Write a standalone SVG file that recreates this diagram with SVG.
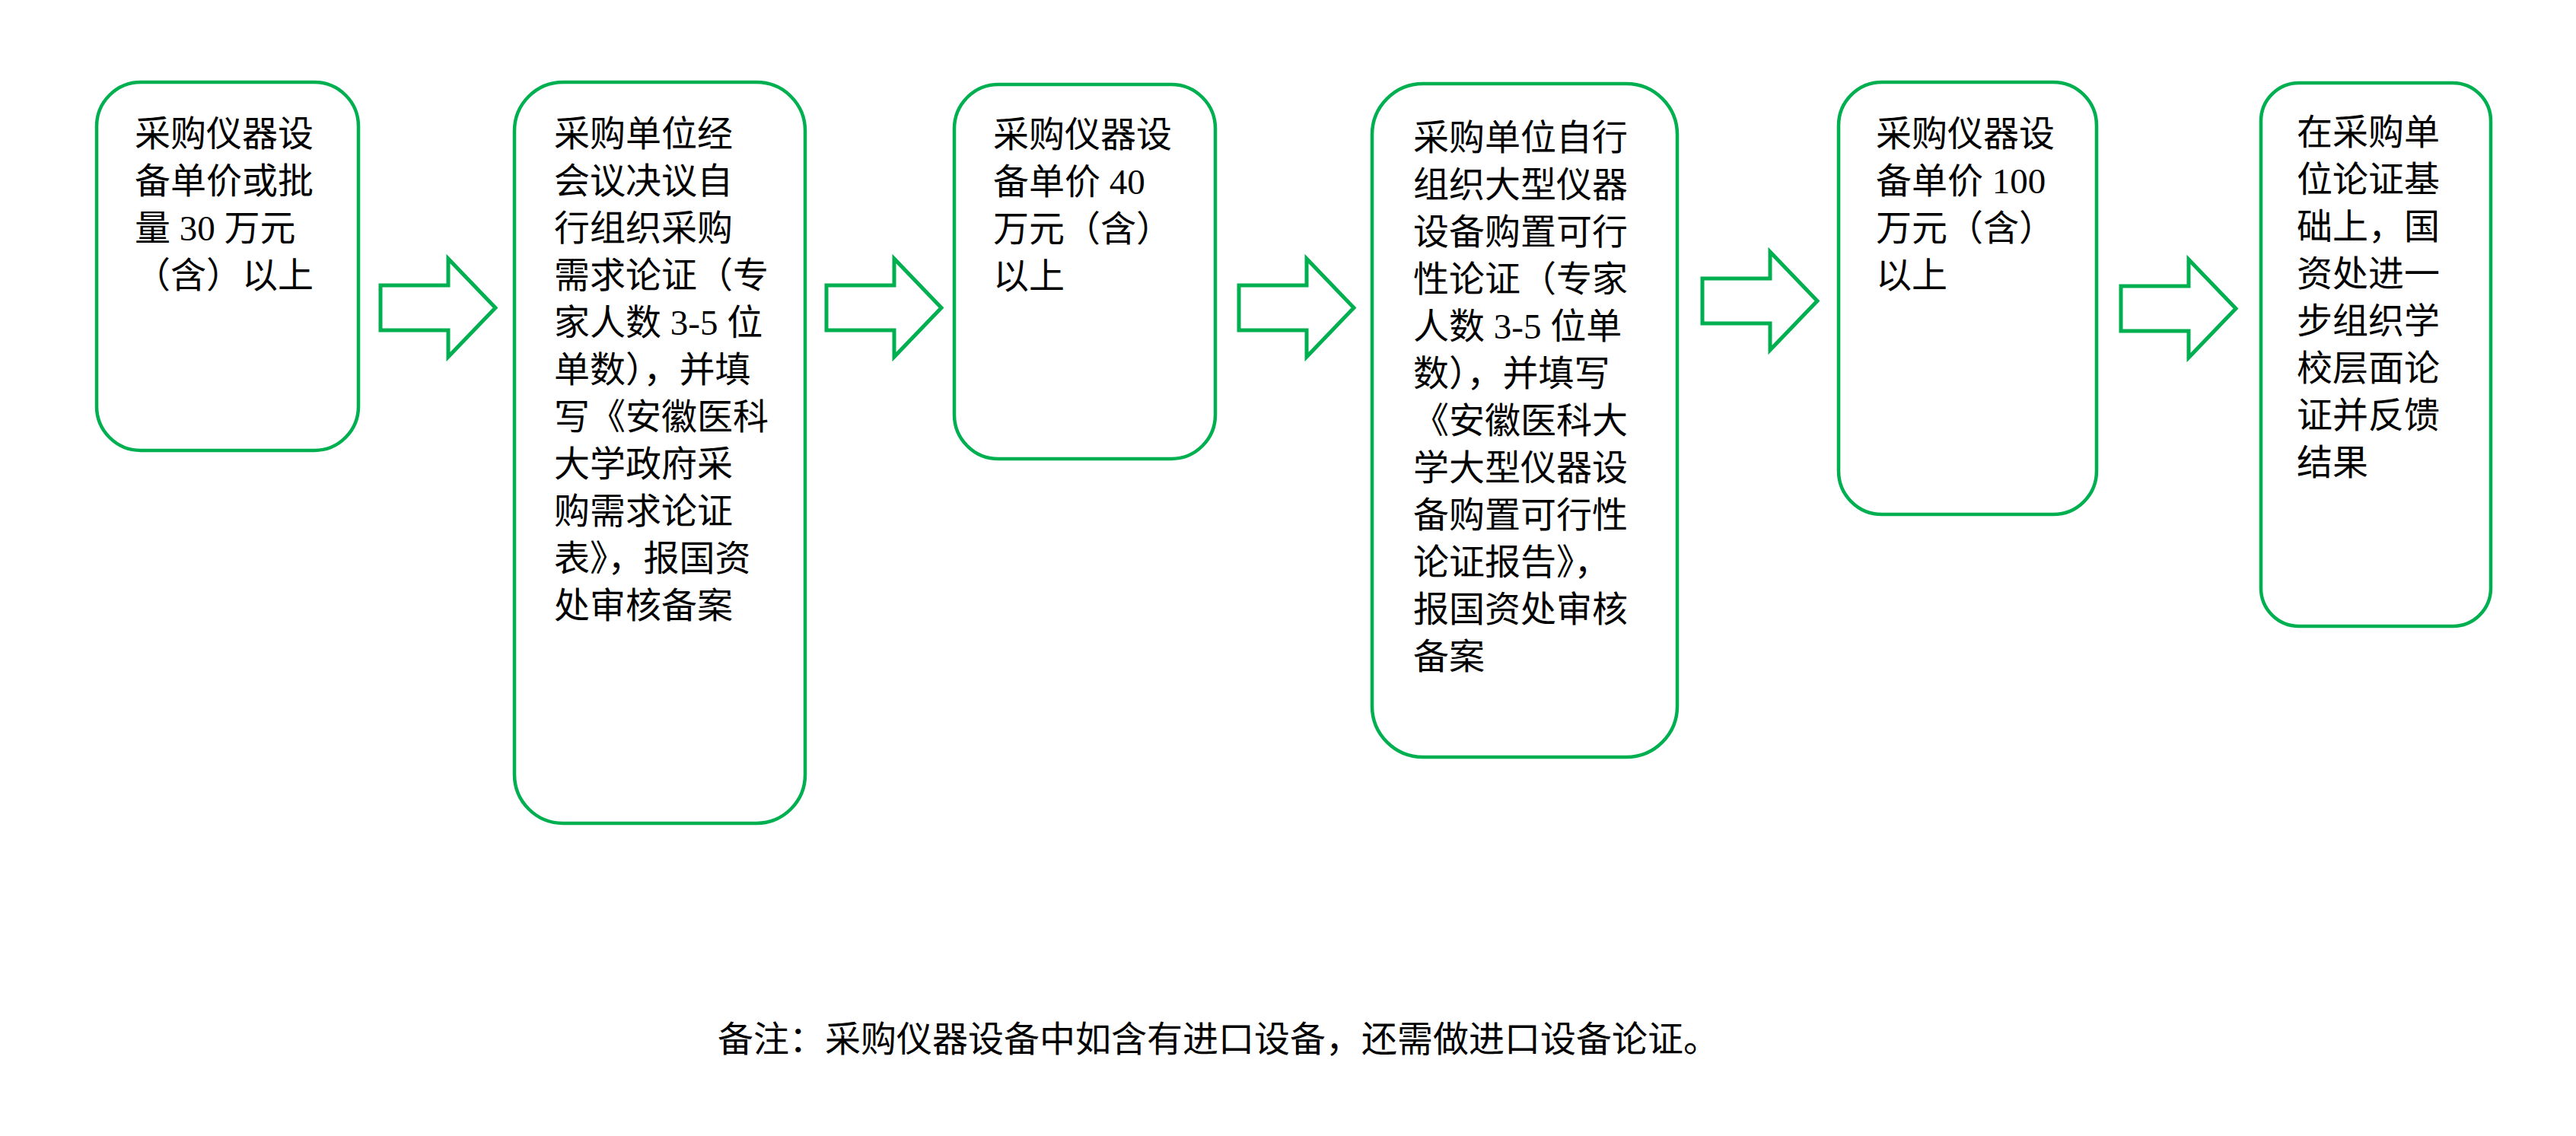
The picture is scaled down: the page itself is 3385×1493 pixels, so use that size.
<svg xmlns="http://www.w3.org/2000/svg" width="3385" height="1493" viewBox="0 0 3385 1493">
<style>
.box{fill:#fff;stroke:#00B050;stroke-width:4.5}
.arr{fill:#fff;stroke:#00B050;stroke-width:5;stroke-linejoin:miter}
.t{font-family:"Liberation Serif","Noto Sans CJK SC",serif;font-size:47px;fill:#000}
</style>
<rect width="3385" height="1493" fill="#fff"/>
<g id="connectors">
<path class="arr" d="M500,375 H589 V340 L651,404.5 L589,469 V434 H500 Z"/>
<path class="arr" d="M1086,375 H1175 V340 L1237,404.5 L1175,469 V434 H1086 Z"/>
<path class="arr" d="M1628,375 H1717 V340 L1779,404.5 L1717,469 V434 H1628 Z"/>
<path class="arr" d="M2237,366 H2326 V331 L2388,395.5 L2326,460 V425 H2237 Z"/>
<path class="arr" d="M2787,376 H2876 V341 L2938,405.5 L2876,470 V435 H2787 Z"/>
</g>
<g id="node1">
<rect class="box" x="127" y="108" width="344" height="484" rx="58" ry="58"/>
<text class="t"><tspan x="177" y="192">采购仪器设</tspan><tspan x="177" y="254">备单价或批</tspan><tspan x="177" y="316">量 30 万元</tspan><tspan x="177" y="378">（含）以上</tspan></text>
</g>
<g id="node2">
<rect class="box" x="676" y="108" width="382" height="974" rx="64" ry="64"/>
<text class="t"><tspan x="728" y="192">采购单位经</tspan><tspan x="728" y="254">会议决议自</tspan><tspan x="728" y="316">行组织采购</tspan><tspan x="728" y="378">需求论证（专</tspan><tspan x="728" y="440">家人数 3-5 位</tspan><tspan x="728" y="502">单数），并填</tspan><tspan x="728" y="564">写《安徽医科</tspan><tspan x="728" y="626">大学政府采</tspan><tspan x="728" y="688">购需求论证</tspan><tspan x="728" y="750">表》，报国资</tspan><tspan x="728" y="812">处审核备案</tspan></text>
</g>
<g id="node3">
<rect class="box" x="1254" y="111" width="343" height="492" rx="58" ry="58"/>
<text class="t"><tspan x="1305" y="193">采购仪器设</tspan><tspan x="1305" y="255">备单价 40</tspan><tspan x="1305" y="317">万元（含）</tspan><tspan x="1305" y="379">以上</tspan></text>
</g>
<g id="node4">
<rect class="box" x="1803" y="110" width="401" height="885" rx="67" ry="67"/>
<text class="t"><tspan x="1857" y="197">采购单位自行</tspan><tspan x="1857" y="259">组织大型仪器</tspan><tspan x="1857" y="321">设备购置可行</tspan><tspan x="1857" y="383">性论证（专家</tspan><tspan x="1857" y="445">人数 3-5 位单</tspan><tspan x="1857" y="507">数），并填写</tspan><tspan x="1857" y="569">《安徽医科大</tspan><tspan x="1857" y="631">学大型仪器设</tspan><tspan x="1857" y="693">备购置可行性</tspan><tspan x="1857" y="755">论证报告》，</tspan><tspan x="1857" y="817">报国资处审核</tspan><tspan x="1857" y="879">备案</tspan></text>
</g>
<g id="node5">
<rect class="box" x="2416" y="108" width="339" height="568" rx="57" ry="57"/>
<text class="t"><tspan x="2465" y="192">采购仪器设</tspan><tspan x="2465" y="254">备单价 100</tspan><tspan x="2465" y="316">万元（含）</tspan><tspan x="2465" y="378">以上</tspan></text>
</g>
<g id="node6">
<rect class="box" x="2971" y="109" width="302" height="714" rx="50" ry="50"/>
<text class="t"><tspan x="3018" y="190">在采购单</tspan><tspan x="3018" y="252">位论证基</tspan><tspan x="3018" y="314">础上，国</tspan><tspan x="3018" y="376">资处进一</tspan><tspan x="3018" y="438">步组织学</tspan><tspan x="3018" y="500">校层面论</tspan><tspan x="3018" y="562">证并反馈</tspan><tspan x="3018" y="624">结果</tspan></text>
</g>
<g id="note">
<text class="t" x="943" y="1382">备注：采购仪器设备中如含有进口设备，还需做进口设备论证。</text>
</g>
</svg>
